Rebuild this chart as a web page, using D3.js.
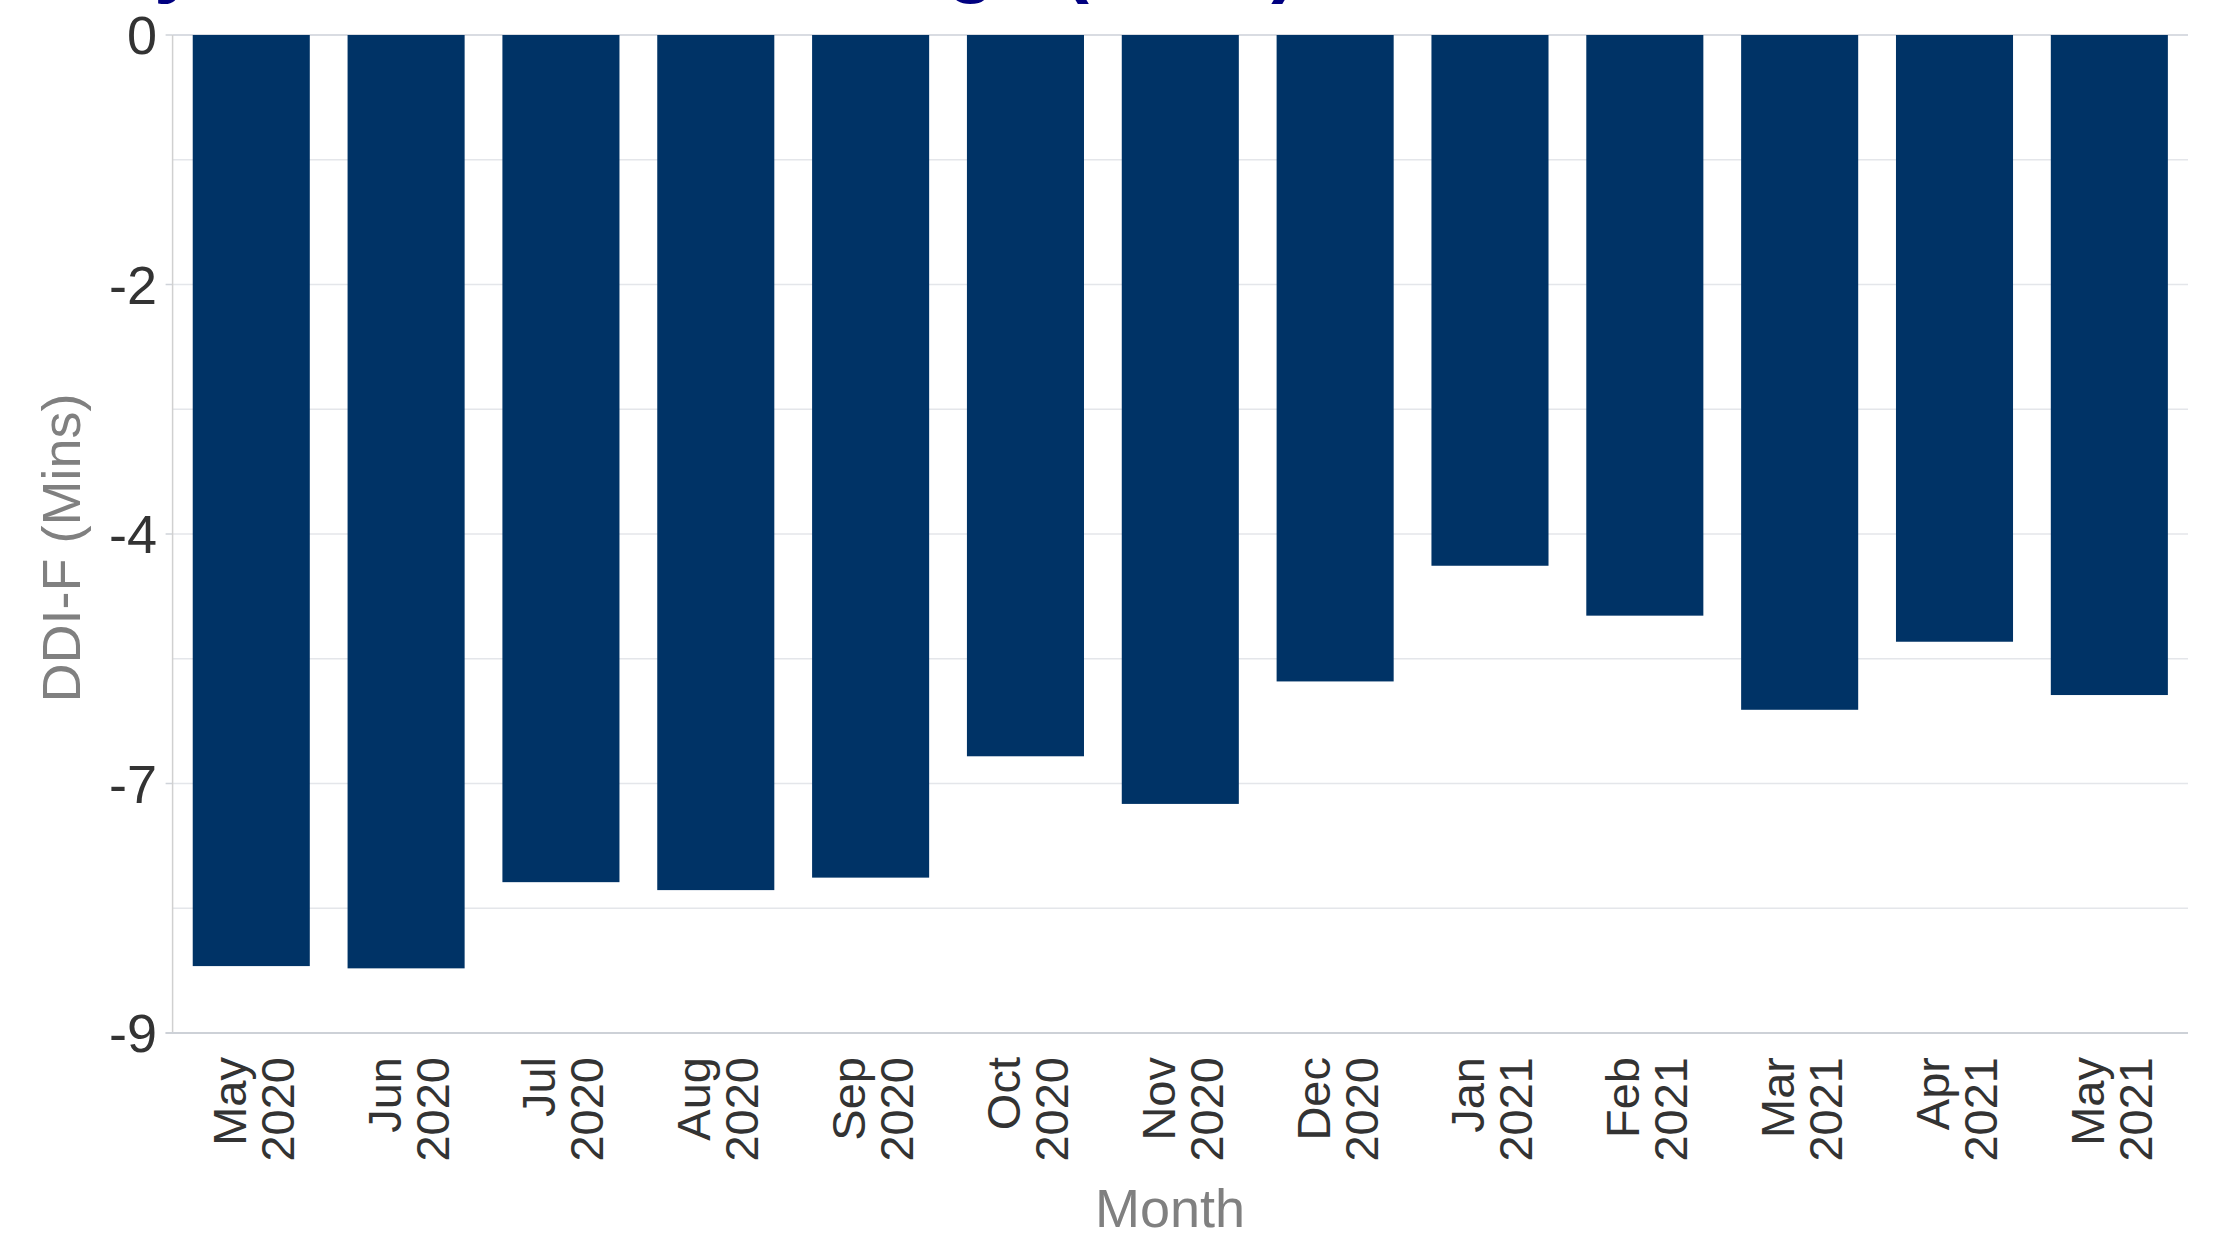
<!DOCTYPE html>
<html>
<head>
<meta charset="utf-8">
<script src="https://cdn.jsdelivr.net/npm/d3@7"></script>
<style>
  html, body { margin: 0; padding: 0; background: #fff; overflow: hidden; }
  svg { display: block; font-family: "Liberation Sans", Arial, sans-serif; }
</style>
</head>
<body>
<svg id="chart" width="2218" height="1239"></svg>
<script>
// ---- data ----
const months = ["May", "Jun", "Jul", "Aug", "Sep", "Oct", "Nov", "Dec", "Jan", "Feb", "Mar", "Apr", "May"];
const years  = ["2020", "2020", "2020", "2020", "2020", "2020", "2020", "2020", "2021", "2021", "2021", "2021", "2021"];
const values = [-8.21, -8.23, -7.47, -7.54, -7.43, -6.36, -6.78, -5.70, -4.68, -5.12, -5.95, -5.35, -5.82];
const yDomainMin = -8.8;
const yTickLabels = ["0", "-2", "-4", "-7", "-9"];
const titleText = "Monthly DDI-F Annual Change (Mins)";
const xTitle = "Month";
const yTitle = "DDI-F (Mins)";

(function () {
// ---- layout ----
const svg = d3.select("#chart");
const mLeft = 172.6, mRight = 2188, mTop = 35, mBottom = 1033;

const cats = months.map((m, i) => m + " " + years[i]);
const x = d3.scaleBand().domain(cats).range([mLeft, mRight]).paddingInner(0.244).paddingOuter(0.13);
const y = d3.scaleLinear().domain([yDomainMin, 0]).range([mBottom, mTop]);

// gridlines (every 1/8 of the domain)
const gridVals = d3.range(9).map(i => yDomainMin * i / 8);
svg.append("g").selectAll("line").data(gridVals).join("line")
  .attr("x1", mLeft).attr("x2", mRight)
  .attr("y1", d => y(d)).attr("y2", d => y(d))
  .attr("stroke", "#e4e6ea").attr("stroke-width", 1.5);

// zero line slightly darker
svg.append("line")
  .attr("x1", mLeft).attr("x2", mRight).attr("y1", y(0)).attr("y2", y(0))
  .attr("stroke", "#d9dce2").attr("stroke-width", 2);

// major ticks + labels
const majorVals = yTickLabels.map((t, i) => yDomainMin * i / 4);
const yAx = svg.append("g");
yAx.selectAll("line").data(majorVals).join("line")
  .attr("x1", mLeft - 7).attr("x2", mLeft)
  .attr("y1", d => y(d)).attr("y2", d => y(d))
  .attr("stroke", "#cfd3d9").attr("stroke-width", 1.5);
yAx.selectAll("text").data(majorVals).join("text")
  .attr("x", 157).attr("y", d => y(d))
  .attr("text-anchor", "end").attr("dominant-baseline", "central")
  .attr("font-size", 54).attr("fill", "#333333")
  .text((d, i) => yTickLabels[i]);

// left axis line
svg.append("line")
  .attr("x1", mLeft).attr("x2", mLeft).attr("y1", mTop).attr("y2", mBottom)
  .attr("stroke", "#d0d0d0").attr("stroke-width", 1.5);

// bars
svg.append("g").selectAll("rect").data(values).join("rect")
  .attr("x", (d, i) => x(cats[i]))
  .attr("width", x.bandwidth())
  .attr("y", y(0))
  .attr("height", d => y(d) - y(0))
  .attr("fill", "#003366");

// bottom axis line
svg.append("line")
  .attr("x1", mLeft - 7).attr("x2", mRight).attr("y1", mBottom).attr("y2", mBottom)
  .attr("stroke", "#cdd1d7").attr("stroke-width", 2);

// x tick labels (rotated, two lines)
const xl = svg.append("g").selectAll("text").data(cats).join("text")
  .attr("transform", d => `translate(${x(d) + x.bandwidth() / 2},1057) rotate(-90)`)
  .attr("text-anchor", "end")
  .attr("font-size", 47).attr("fill", "#333333");
xl.append("tspan").attr("x", 0).attr("y", -5.5).text((d, i) => months[i]);
xl.append("tspan").attr("x", 0).attr("y", 42.5).text((d, i) => years[i]);

// axis titles
svg.append("text")
  .attr("x", 1170).attr("y", 1227)
  .attr("text-anchor", "middle").attr("font-size", 54).attr("fill", "#808080")
  .text(xTitle);
svg.append("text")
  .attr("transform", "translate(80,548) rotate(-90)")
  .attr("text-anchor", "middle").attr("font-size", 54).attr("fill", "#808080")
  .text(yTitle);

// chart title (mostly cut off at the top edge, as in the reference)
svg.append("text")
  .attr("x", -108).attr("y", -13)
  .attr("font-size", 80).attr("font-weight", "bold").attr("fill", "#000080")
  .text(titleText);
})();
</script>
</body>
</html>
